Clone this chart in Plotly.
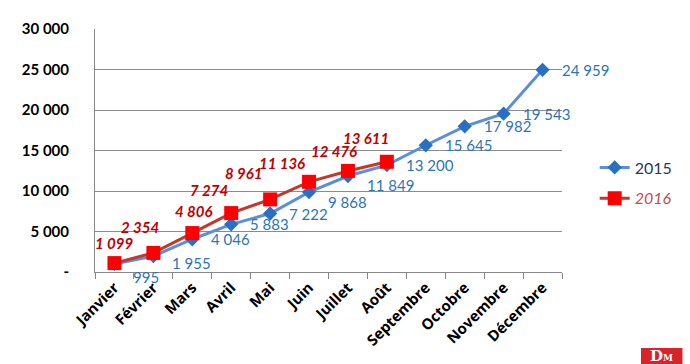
import plotly.graph_objects as go

months = ["Janvier", "Février", "Mars", "Avril", "Mai", "Juin", "Juillet",
          "Août", "Septembre", "Octobre", "Novembre", "Décembre"]
values_2015 = [995, 1955, 4046, 5883, 7222, 9868, 11849, 13200, 15645, 17982, 19543, 24959]
values_2016 = [1099, 2354, 4806, 7274, 8961, 11136, 12476, 13611]
y_tickvals = [0, 5000, 10000, 15000, 20000, 25000, 30000]
y_ticktext = ["-", "5 000", "10 000", "15 000", "20 000", "25 000", "30 000"]

# label offsets (style only)
off15_y = [-13, -7, 0, 0, 0, -10, -9, 0, 0, 0, 0, 0]
off16 = [(0, 20), (-13, 26), (1, 22), (-22, 23), (-27, 26), (-27, 19), (-14, 20), (-21, 24)]

FONT = "Lato"

def fmt(v):
    return f"{v:,}".replace(",", " ")

fig = go.Figure()
fig.add_trace(go.Scatter(
    x=months, y=values_2015, mode="lines+markers", name="2015",
    line=dict(color="#5b8fdb", width=3),
    marker=dict(symbol="diamond", size=11, color="#2a70c2"),
    legendgroup="a",
))
fig.add_trace(go.Scatter(
    x=months[:len(values_2016)], y=values_2016, mode="lines+markers",
    name="<i><span style='color:#c0504d'>2016</span></i>",
    line=dict(color="#c0392b", width=3),
    marker=dict(symbol="square", size=14, color="#ff0000"),
    legendgroup="b",
))

ann = []
for i, (m, v) in enumerate(zip(months, values_2015)):
    ann.append(dict(x=m, y=v, xref="x", yref="y", text=fmt(v), showarrow=False,
                    xanchor="left", yanchor="middle", xshift=17, yshift=off15_y[i],
                    font=dict(family=FONT, size=15, color="#2e75b6")))
for i, (m, v) in enumerate(zip(months, values_2016)):
    dx, dy = off16[i]
    ann.append(dict(x=m, y=v, xref="x", yref="y", text=f"<b><i>{fmt(v)}</i></b>", showarrow=False,
                    xanchor="center", yanchor="middle", xshift=dx, yshift=dy,
                    font=dict(family=FONT, size=15, color="#c00000")))

fig.update_layout(
    width=690, height=364,
    margin=dict(l=95, r=122, t=29, b=92),
    paper_bgcolor="white", plot_bgcolor="white",
    showlegend=True,
    legend=dict(x=1.07, y=0.5, xanchor="left", yanchor="top",
                font=dict(family=FONT, size=16, color="#1f3864"),
                itemwidth=30,
                tracegroupgap=7, bgcolor="rgba(0,0,0,0)"),
    annotations=ann,
    xaxis=dict(
        type="category", categoryorder="array", categoryarray=months,
        range=[-0.5, 11.5],
        showline=True, linecolor="#888888", linewidth=1,
        ticks="outside", tickson="boundaries", ticklen=6, tickcolor="#888888",
        tickangle=-45, showgrid=False,
        tickfont=dict(family="Open Sans", size=15, color="black", weight="bold"),
    ),
    yaxis=dict(
        range=[0, 30000], tickvals=y_tickvals, ticktext=y_ticktext,
        showgrid=True, gridcolor="#8c8c8c", gridwidth=1,
        showline=True, linecolor="#888888", linewidth=1,
        zeroline=False, ticks="", ticklabelstandoff=22,
        tickfont=dict(family=FONT, size=15, color="black", weight="bold"),
    ),
    shapes=[dict(type="rect", xref="paper", yref="paper",
                 x0=(648 - 95) / 473, x1=(690 - 95) / 473,
                 y0=(272 - 364) / 243, y1=(272 - 348) / 243,
                 fillcolor="#d8232a", line=dict(width=0), layer="above")],
)
fig.add_annotation(x=(669 - 95) / 473, y=(272 - 356) / 243, xref="paper", yref="paper",
                   text="<b>D<span style='font-size:9px'>M</span></b>", showarrow=False,
                   font=dict(family="DejaVu Serif", size=15, color="white"),
                   xanchor="center", yanchor="middle")

fig.write_html("out.html", config={"displayModeBar": False},
               post_script="document.body.style.margin='0';document.body.style.overflow='hidden';")
